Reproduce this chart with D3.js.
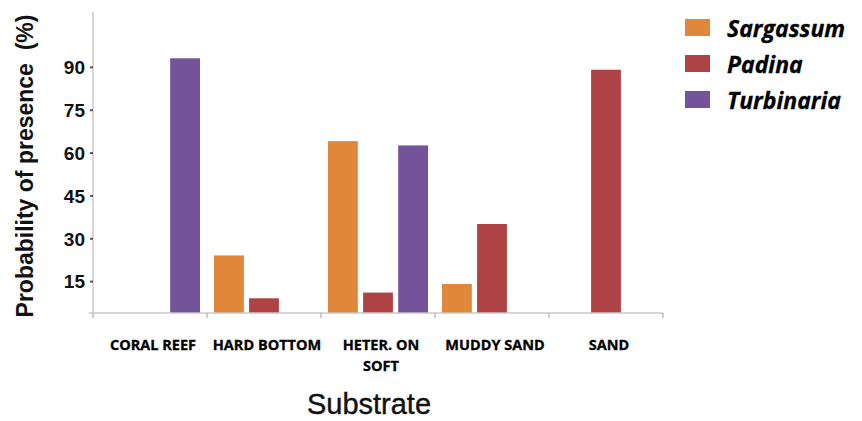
<!DOCTYPE html>
<html>
<head>
<meta charset="utf-8">
<script src="https://cdn.jsdelivr.net/npm/d3@7"></script>
<style>
  html, body { margin: 0; padding: 0; background: #ffffff; }
  svg { display: block; }
</style>
</head>
<body>
<svg id="chart" width="862" height="421"></svg>
<script>
// ---- data ----
const categories = ["CORAL REEF", "HARD BOTTOM", "HETER. ON SOFT", "MUDDY SAND", "SAND"];
const categoryLines = [["CORAL REEF"], ["HARD BOTTOM"], ["HETER. ON", "SOFT"], ["MUDDY SAND"], ["SAND"]];
const seriesNames = ["Sargassum", "Padina", "Turbinaria"];
const sargassum = [0, 24, 64, 14, 0];
const padina = [0, 9, 11, 35, 89];
const turbinaria = [93, 0, 62.5, 0, 0];
const yTicks = [15, 30, 45, 60, 75, 90];
const seriesColors = ["#E0873A", "#AF4244", "#73539A"];

const seriesValues = [sargassum, padina, turbinaria];

const svg = d3.select("#chart");

// scales
const x0 = d3.scaleBand().domain(categories).range([93, 663]).paddingInner(0).paddingOuter(0);
const x1 = d3.scaleBand().domain(seriesNames).range([0, x0.bandwidth()]).paddingInner(0.15).paddingOuter(0.2);
const y = d3.scaleLinear().domain([3.85, 109.2]).range([313, 12]);
const base = y.range()[0];

// bars
const rows = [];
categories.forEach((c, i) => {
  seriesNames.forEach((s, j) => {
    const v = seriesValues[j][i];
    if (v > 0) rows.push({ c, s, v, color: seriesColors[j] });
  });
});
svg.append("g").selectAll("rect").data(rows).join("rect")
  .attr("x", d => x0(d.c) + x1(d.s))
  .attr("width", x1.bandwidth())
  .attr("y", d => y(d.v))
  .attr("height", d => base - y(d.v))
  .attr("fill", d => d.color);

// y axis
const yAxis = d3.axisLeft(y).tickValues(yTicks).tickSize(3).tickPadding(5).tickFormat(d3.format("d"));
const gy = svg.append("g").attr("transform", "translate(93,0)").call(yAxis);
gy.select(".domain").attr("stroke", "#c9c9c9").attr("stroke-width", 1.5).attr("d", `M0,${y.range()[1]}V${base}`);
gy.selectAll(".tick line").attr("stroke", "#555").attr("stroke-width", 2);
gy.selectAll(".tick text")
  .attr("fill", "#111")
  .style("font-family", "'Liberation Sans', Arial, sans-serif")
  .style("font-weight", "bold")
  .style("font-size", "19px")
  .attr("dy", "0.36em");

// x axis
const gx = svg.append("g").attr("transform", `translate(0,${base})`);
gx.append("line").attr("x1", 89).attr("x2", x0.range()[1]).attr("y1", 0).attr("y2", 0)
  .attr("stroke", "#c9c9c9").attr("stroke-width", 1.5);
const boundaries = categories.map(c => x0(c)).concat([x0.range()[1]]);
gx.selectAll("line.tk").data(boundaries).join("line").attr("class", "tk")
  .attr("x1", d => d).attr("x2", d => d).attr("y1", 0).attr("y2", 5)
  .attr("stroke", "#bdbdbd").attr("stroke-width", 1.5);

const lbl = gx.selectAll("text.cat").data(categories).join("text").attr("class", "cat")
  .attr("text-anchor", "middle")
  .attr("fill", "#000")
  .attr("stroke", "#000")
  .attr("stroke-width", 0.3)
  .style("font-family", "'Open Sans', sans-serif")
  .style("font-weight", "bold")
  .style("font-size", "14.5px");
lbl.each(function(d, i) {
  const t = d3.select(this);
  categoryLines[i].forEach((line, k) => {
    t.append("tspan").attr("x", x0(d) + x0.bandwidth() / 2 + 3).attr("y", 37 + k * 21).text(line);
  });
});

// axis titles
svg.append("text")
  .attr("transform", "translate(33,166) rotate(-90)")
  .attr("text-anchor", "middle")
  .attr("fill", "#111")
  .style("font-family", "'Liberation Sans', Arial, sans-serif")
  .style("font-weight", "bold")
  .style("font-size", "23px")
  .style("white-space", "pre")
  .text("Probability of presence  (%)");

svg.append("text")
  .attr("x", 369).attr("y", 414)
  .attr("text-anchor", "middle")
  .attr("fill", "#111")
  .attr("stroke", "#111")
  .attr("stroke-width", 0.4)
  .style("font-family", "'Liberation Sans', Arial, sans-serif")
  .style("font-size", "29px")
  .text("Substrate");

// legend
const lg = svg.append("g").attr("transform", "translate(685,28)");
const items = lg.selectAll("g").data(seriesNames).join("g")
  .attr("transform", (d, i) => `translate(0,${i * 36})`);
items.append("rect").attr("x", 0).attr("y", -9).attr("width", 25).attr("height", 17)
  .attr("fill", (d, i) => seriesColors[i]);
items.append("text").attr("x", 42).attr("y", 9)
  .attr("fill", "#000")
  .attr("stroke", "#000")
  .attr("stroke-width", 0.3)
  .style("font-family", "'Open Sans', sans-serif")
  .style("font-weight", "bold")
  .style("font-style", "italic")
  .style("font-size", "23px")
  .text(d => d);
</script>
</body>
</html>
